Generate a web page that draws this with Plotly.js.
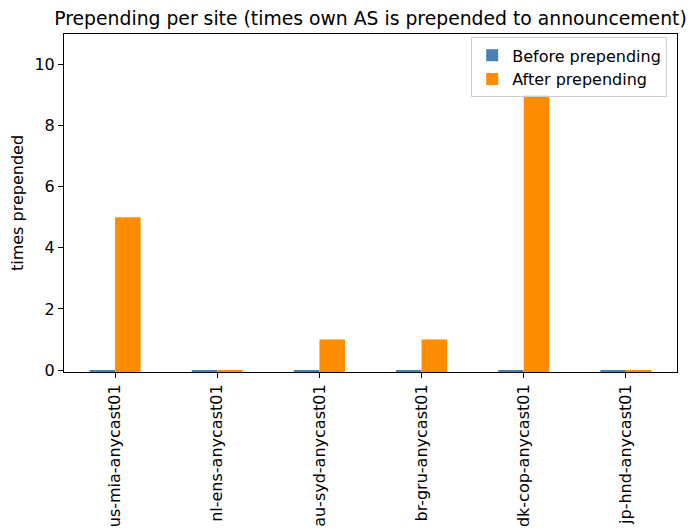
<!DOCTYPE html>
<html>
<head>
<meta charset="utf-8">
<script src="https://cdn.plot.ly/plotly-3.0.1.min.js"></script>
<style>html,body{margin:0;padding:0;background:#fff;}#chart{width:693px;height:531px;}</style>
</head>
<body>
<div id="chart"></div>
<script>
var sites = ["us-mia-anycast01", "nl-ens-anycast01", "au-syd-anycast01", "br-gru-anycast01", "dk-cop-anycast01", "jp-hnd-anycast01"];
var beforePrepending = [0, 0, 0, 0, 0, 0];
var afterPrepending = [5, 0, 1, 1, 9, 0];
var yTicks = [0, 2, 4, 6, 8, 10];

var floor = -0.065;
var font = "DejaVu Sans, sans-serif";

var traces = [
  {type: "bar", name: "Before prepending", x: sites, y: beforePrepending.map(function(v){return v - floor;}), base: floor,
   marker: {color: "#4682b4", line: {width: 0}}, hoverinfo: "none"},
  {type: "bar", name: "After prepending", x: sites, y: afterPrepending.map(function(v){return v - floor;}), base: floor,
   marker: {color: "#ff8c00", line: {width: 0}}, hoverinfo: "none"}
];

var layout = {
  width: 693, height: 531,
  margin: {l: 64, r: 16, t: 34, b: 159, pad: 0},
  paper_bgcolor: "#fff", plot_bgcolor: "#fff",
  font: {family: font, size: 16, color: "#000"},
  title: {text: "Prepending per site (times own AS is prepended to announcement)", font: {family: font, size: 18.8, color: "#000"},
          x: 0.5 * (64 + 677) / 693, xanchor: "center", y: 1 - 18 / 531, yanchor: "middle"},
  barmode: "group", bargap: 0.5, bargroupgap: 0,
  xaxis: {
    type: "category", range: [-0.5, 5.5], tickangle: -90,
    showline: true, linecolor: "#000", linewidth: 1, mirror: true,
    ticks: "outside", ticklen: 5, tickwidth: 1, tickcolor: "#000",
    showgrid: false, zeroline: false,
    tickfont: {family: font, size: 16, color: "#000"}
  },
  yaxis: {
    range: [floor, 11], tickvals: yTicks, ticktext: yTicks.map(String),
    showline: true, linecolor: "#000", linewidth: 1, mirror: true,
    ticks: "outside", ticklen: 5, tickwidth: 1, tickcolor: "#000",
    showgrid: false, zeroline: false,
    tickfont: {family: font, size: 16, color: "#000"},
    title: {text: "times prepended", font: {family: font, size: 16, color: "#000"}, standoff: 6}
  },
  legend: {
    x: 0.984, xanchor: "right", y: 0.99, yanchor: "top",
    bgcolor: "rgba(255,255,255,0.8)", bordercolor: "#cccccc", borderwidth: 1,
    font: {family: font, size: 16, color: "#000"}, tracegroupgap: 0
  },
  showlegend: true
};

Plotly.newPlot("chart", traces, layout, {displayModeBar: false, staticPlot: true});
</script>
</body>
</html>
